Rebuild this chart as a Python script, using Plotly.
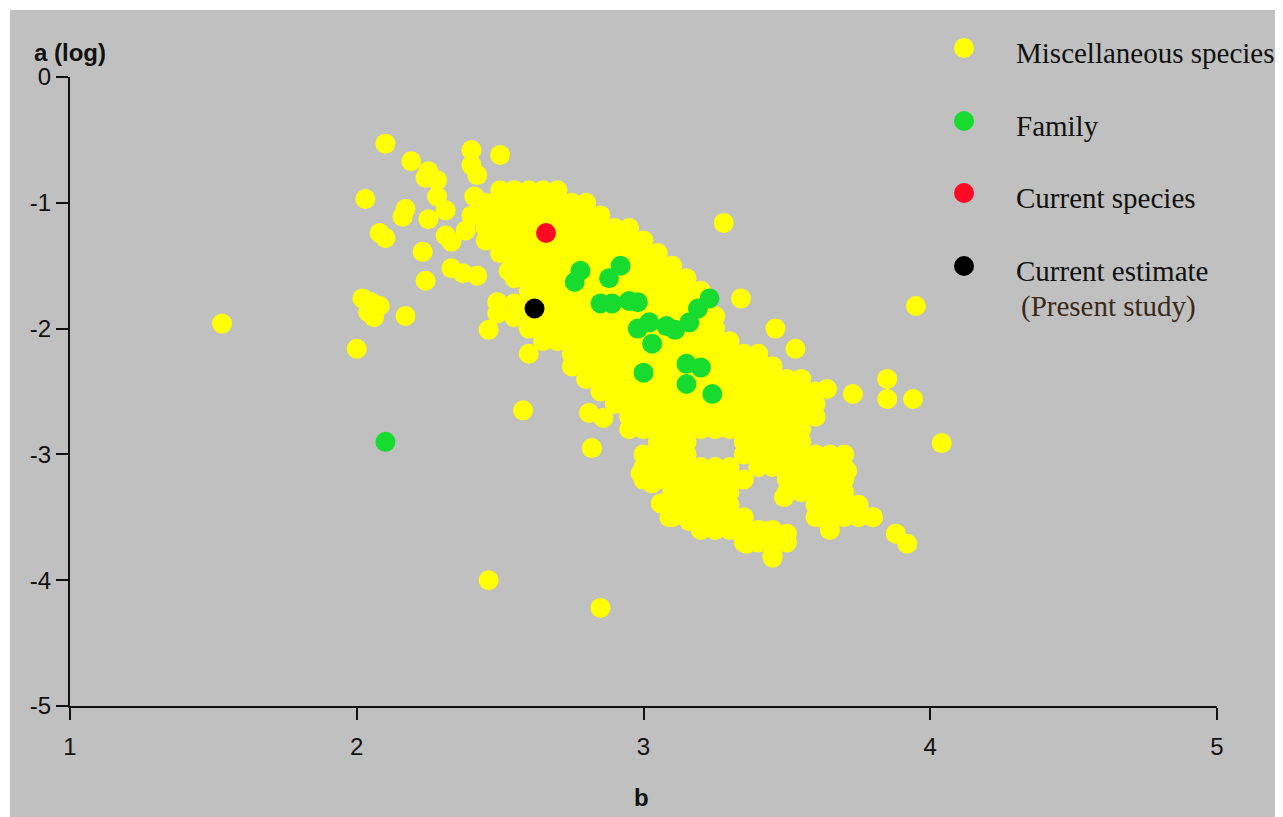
import plotly.graph_objects as go

# ---------------- data ----------------
# Miscellaneous species: isolated / edge points (b, log a)
misc_iso_b = [2.10, 2.19, 2.25, 2.28, 2.24, 2.03, 2.28, 2.31, 2.17, 2.16, 2.25, 2.40, 2.50, 2.40, 2.42,
              2.41, 2.42, 2.38, 2.08, 2.10, 2.31, 2.33, 2.23, 2.33, 2.37, 2.42, 2.24, 2.02, 2.05, 2.08,
              2.04, 2.06, 2.17, 1.53, 2.00, 2.53, 2.49, 2.49, 2.55, 2.46, 2.60, 3.28, 3.34, 3.46, 2.58,
              2.81, 2.86, 2.82, 2.89, 2.46, 2.85, 3.95, 3.73, 3.85, 3.85, 3.94, 4.04, 3.53, 3.64, 3.88,
              3.92, 3.80, 3.45, 3.49, 2.99, 3.03, 3.06, 3.10, 3.09, 3.16, 3.33, 3.36, 3.43, 3.50, 3.62,
              3.66, 3.61, 3.71]
misc_iso_a = [-0.53, -0.67, -0.75, -0.82, -0.80, -0.97, -0.95, -1.06, -1.05, -1.11, -1.13, -0.58, -0.62, -0.70, -0.78,
              -0.95, -1.11, -1.22, -1.24, -1.28, -1.26, -1.31, -1.39, -1.52, -1.56, -1.58, -1.62, -1.76, -1.79, -1.82,
              -1.87, -1.91, -1.90, -1.96, -2.16, -1.54, -1.79, -1.88, -1.91, -2.01, -2.20, -1.16, -1.76, -2.00, -2.65,
              -2.67, -2.71, -2.95, -2.52, -4.00, -4.22, -1.82, -2.52, -2.40, -2.56, -2.56, -2.91, -2.16, -2.48, -3.63,
              -3.71, -3.50, -3.82, -3.34, -3.15, -3.23, -3.39, -3.45, -3.50, -3.53, -3.61, -3.71, -3.61, -3.63, -3.42,
              -3.50, -3.50, -3.13]

# Miscellaneous species: dense band, one list of b values per log-a row
band_a = [-0.9, -1.0, -1.1, -1.2, -1.3, -1.4, -1.5, -1.6, -1.7, -1.8, -1.9, -2.0, -2.1, -2.2, -2.3,
          -2.4, -2.5, -2.6, -2.7, -2.8, -2.9, -3.0, -3.1, -3.2, -3.3, -3.4, -3.5, -3.6, -3.7, -3.8]
band_b = [
    [2.50, 2.55, 2.60, 2.65, 2.70],
    [2.45, 2.50, 2.55, 2.60, 2.65, 2.70, 2.75, 2.80],
    [2.40, 2.45, 2.50, 2.55, 2.60, 2.65, 2.70, 2.75, 2.80, 2.85],
    [2.45, 2.50, 2.55, 2.60, 2.65, 2.70, 2.75, 2.80, 2.85, 2.90, 2.95],
    [2.45, 2.50, 2.55, 2.60, 2.65, 2.70, 2.75, 2.80, 2.85, 2.90, 2.95, 3.00],
    [2.50, 2.55, 2.60, 2.65, 2.70, 2.75, 2.80, 2.85, 2.90, 2.95, 3.00, 3.05],
    [2.55, 2.60, 2.65, 2.70, 2.75, 2.80, 2.85, 2.90, 2.95, 3.00, 3.05, 3.10],
    [2.55, 2.60, 2.65, 2.70, 2.75, 2.80, 2.85, 2.90, 2.95, 3.00, 3.05, 3.10, 3.15],
    [2.60, 2.65, 2.70, 2.75, 2.80, 2.85, 2.90, 2.95, 3.00, 3.05, 3.10, 3.15, 3.20],
    [2.55, 2.60, 2.65, 2.70, 2.75, 2.80, 2.85, 2.90, 2.95, 3.00, 3.05, 3.10, 3.15, 3.20],
    [2.55, 2.60, 2.65, 2.70, 2.75, 2.80, 2.85, 2.90, 2.95, 3.00, 3.05, 3.10, 3.15, 3.20, 3.25],
    [2.60, 2.65, 2.70, 2.75, 2.80, 2.85, 2.90, 2.95, 3.00, 3.05, 3.10, 3.15, 3.20, 3.25],
    [2.65, 2.70, 2.75, 2.80, 2.85, 2.90, 2.95, 3.00, 3.05, 3.10, 3.15, 3.20, 3.25, 3.30],
    [2.75, 2.80, 2.85, 2.90, 2.95, 3.00, 3.05, 3.10, 3.15, 3.20, 3.25, 3.30, 3.35, 3.40],
    [2.75, 2.80, 2.85, 2.90, 2.95, 3.00, 3.05, 3.10, 3.15, 3.20, 3.25, 3.30, 3.35, 3.40, 3.45],
    [2.80, 2.85, 2.90, 2.95, 3.00, 3.05, 3.10, 3.15, 3.20, 3.25, 3.30, 3.35, 3.40, 3.45, 3.50, 3.55],
    [2.85, 2.90, 2.95, 3.00, 3.05, 3.10, 3.15, 3.20, 3.25, 3.30, 3.35, 3.40, 3.45, 3.50, 3.55, 3.60],
    [2.90, 2.95, 3.00, 3.05, 3.10, 3.15, 3.20, 3.25, 3.30, 3.35, 3.40, 3.45, 3.50, 3.55, 3.60],
    [2.95, 3.00, 3.05, 3.10, 3.15, 3.20, 3.25, 3.30, 3.35, 3.40, 3.45, 3.50, 3.55, 3.60],
    [2.95, 3.00, 3.05, 3.10, 3.15, 3.20, 3.25, 3.30, 3.35, 3.40, 3.45, 3.50, 3.55],
    [3.05, 3.10, 3.15, 3.35, 3.40, 3.45, 3.50, 3.55],
    [3.00, 3.05, 3.10, 3.15, 3.35, 3.40, 3.45, 3.50, 3.55, 3.60, 3.65, 3.70],
    [3.00, 3.05, 3.10, 3.15, 3.20, 3.25, 3.30, 3.40, 3.45, 3.50, 3.55, 3.60, 3.65, 3.70],
    [3.00, 3.05, 3.10, 3.15, 3.20, 3.25, 3.30, 3.35, 3.50, 3.55, 3.60, 3.65, 3.70],
    [3.10, 3.15, 3.20, 3.25, 3.30, 3.50, 3.55, 3.60, 3.65, 3.70],
    [3.10, 3.15, 3.20, 3.25, 3.30, 3.60, 3.65, 3.70, 3.75],
    [3.10, 3.15, 3.20, 3.25, 3.30, 3.35, 3.60, 3.65, 3.70, 3.75, 3.80],
    [3.20, 3.25, 3.30, 3.35, 3.40, 3.45, 3.65],
    [3.35, 3.40, 3.45, 3.50],
    [3.45],
]

# Family
family_b = [2.78, 2.76, 2.92, 2.88, 2.85, 2.89, 2.95, 2.98, 2.98, 3.02, 3.08, 3.11, 3.03, 3.19, 3.23,
            3.16, 3.00, 3.15, 3.20, 3.15, 3.24, 2.10]
family_a = [-1.54, -1.63, -1.50, -1.60, -1.80, -1.80, -1.78, -1.79, -2.00, -1.95, -1.98, -2.01, -2.12, -1.84, -1.76,
            -1.95, -2.35, -2.28, -2.31, -2.44, -2.52, -2.90]

# Current species / current estimate
current_b = [2.66]
current_a = [-1.24]
estimate_b = [2.62]
estimate_a = [-1.84]

x_ticks = [1, 2, 3, 4, 5]
y_ticks = [0, -1, -2, -3, -4, -5]

legend_labels = ["Miscellaneous species", "Family", "Current species", "Current estimate"]

# ---------------- build ----------------
YELLOW = "#FFFF00"
GREEN = "#17DC2F"
RED = "#FF0A24"
BLACK = "#000000"
BG = "#C0C0C0"

misc_b = list(misc_iso_b)
misc_a = list(misc_iso_a)
for a_val, row in zip(band_a, band_b):
    for b_val in row:
        misc_b.append(b_val)
        misc_a.append(a_val)

MS = 20
fig = go.Figure()
for xs, ys, col, name in [(misc_b, misc_a, YELLOW, legend_labels[0]),
                          (family_b, family_a, GREEN, legend_labels[1]),
                          (current_b, current_a, RED, legend_labels[2]),
                          (estimate_b, estimate_a, BLACK, legend_labels[3])]:
    fig.add_trace(go.Scatter(x=xs, y=ys, mode="markers", name=name, showlegend=False,
                             marker=dict(size=MS, color=col, line=dict(width=0)),
                             cliponaxis=False, hoverinfo="x+y"))

W, H = 1283, 817
OFF = 8  # page body margin offset
L, R, T, B = 70 - OFF, W - 1217 + OFF, 77 - OFF, H - 706 + OFF
pw, ph = W - L - R, H - T - B


def px(xr):  # reference-page pixel -> paper
    return (xr - OFF - L) / pw


def py(yr):
    return (H - B - (yr - OFF)) / ph


shapes = [
    # white page border strips seen in the reference
    dict(type="rect", xref="paper", yref="paper", x0=px(OFF), x1=px(10), y0=py(900), y1=py(OFF),
         fillcolor="white", line=dict(width=0), layer="below"),
    dict(type="rect", xref="paper", yref="paper", x0=px(OFF), x1=px(1400), y0=py(10), y1=py(OFF),
         fillcolor="white", line=dict(width=0), layer="below"),
]
annotations = []
# custom legend
leg_marker_y = [48, 121, 193, 266]
leg_text_y = [53, 126, 198, 271]
leg_colors = [YELLOW, GREEN, RED, BLACK]
serif = "Liberation Serif, Times New Roman, serif"
for my, ty, col, lab in zip(leg_marker_y, leg_text_y, leg_colors, legend_labels):
    shapes.append(dict(type="circle", xref="paper", yref="paper", xsizemode="pixel", ysizemode="pixel",
                       xanchor=px(964), yanchor=py(my), x0=-10, x1=10, y0=-10, y1=10,
                       fillcolor=col, line=dict(width=0), layer="above"))
    annotations.append(dict(xref="paper", yref="paper", x=px(1014), y=py(ty), text=lab, showarrow=False,
                            xanchor="left", yanchor="middle",
                            font=dict(family=serif, size=29, color="#111")))
annotations.append(dict(xref="paper", yref="paper", x=px(1019), y=py(306), text="(Present study)", showarrow=False,
                        xanchor="left", yanchor="middle",
                        font=dict(family=serif, size=29, color="#3a2a1a")))
# axis titles
annotations.append(dict(xref="paper", yref="paper", x=px(70), y=py(52), text="<b>a (log)</b>", showarrow=False,
                        xanchor="center", yanchor="middle",
                        font=dict(family="Liberation Sans, Arial, sans-serif", size=24, color="#111")))
annotations.append(dict(xref="paper", yref="paper", x=px(641), y=py(797), text="<b>b</b>", showarrow=False,
                        xanchor="center", yanchor="middle",
                        font=dict(family="Liberation Sans, Arial, sans-serif", size=24, color="#111")))

tickfont = dict(family="Liberation Sans, Arial, sans-serif", size=24, color="#111")
fig.update_layout(
    width=W, height=H,
    margin=dict(l=L, r=R, t=T, b=B, pad=0),
    paper_bgcolor=BG, plot_bgcolor=BG,
    showlegend=False,
    shapes=shapes, annotations=annotations,
    xaxis=dict(range=[1, 5], tickvals=x_ticks, ticktext=[str(v) for v in x_ticks], ticks="outside",
               ticklen=12, tickwidth=2, tickcolor="#111", showline=True, linecolor="#111", linewidth=2,
               showgrid=False, zeroline=False, tickfont=tickfont, fixedrange=True, ticklabelstandoff=6),
    yaxis=dict(range=[-5, 0], tickvals=y_ticks, ticktext=[str(v) for v in y_ticks], ticks="outside",
               ticklen=12, tickwidth=2, tickcolor="#111", showline=True, linecolor="#111", linewidth=2,
               showgrid=False, zeroline=False, tickfont=tickfont, fixedrange=True),
)

fig.write_html("out.html")
